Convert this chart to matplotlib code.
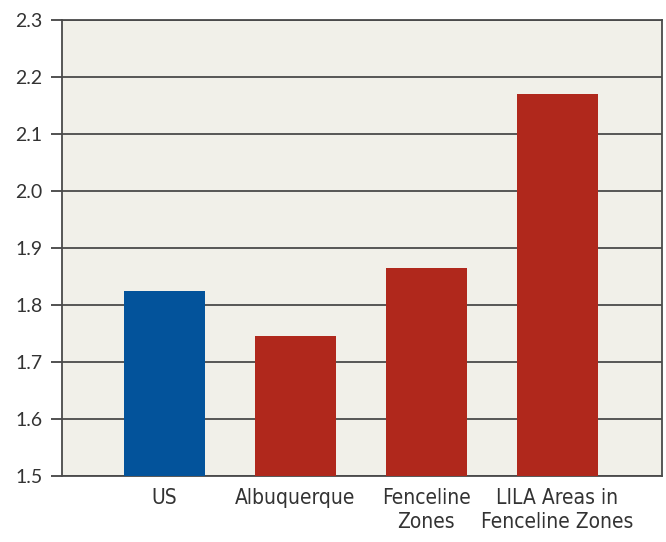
import numpy as np
import matplotlib.pyplot as plt

categories = ['US', 'Albuquerque', 'Fenceline\nZones', 'LILA Areas in\nFenceline Zones']
values = [1.825, 1.745, 1.865, 2.17]
colors = ['#03539b', '#b0281c', '#b0281c', '#b0281c']
yticks = [1.5, 1.6, 1.7, 1.8, 1.9, 2.0, 2.1, 2.2, 2.3]

fig = plt.figure(figsize=(6.66, 5.42), dpi=100)
ax = fig.add_axes([0.0931, 0.1218, 0.901, 0.8413])
ax.set_facecolor('#f1f0e9')

x = np.arange(len(categories))
ax.bar(x, values, width=0.62, color=colors, zorder=3)

ax.set_xlim(-0.78, 3.80)
ax.set_ylim(1.5, 2.3)
ax.set_yticks(yticks)
ax.set_yticklabels(['%.1f' % v for v in yticks])
ax.yaxis.grid(True, color='#4a4a4a', linewidth=1.3, zorder=1)
ax.set_axisbelow(True)

ax.set_xticks(x)
ax.set_xticklabels(categories, family=['DejaVu Sans'], stretch='condensed',
                   fontsize=15, color='#333333', linespacing=1.2)
ax.tick_params(axis='x', length=0, pad=9)
ax.tick_params(axis='y', length=8, width=1.2, color='#333333', pad=6,
               labelsize=14, labelcolor='#333333')
for lbl in ax.get_yticklabels():
    lbl.set_family(['Lato', 'DejaVu Sans'])

for s in ax.spines.values():
    s.set_color('#4a4a4a')
    s.set_linewidth(1.3)

fig.savefig('out.png', dpi=100)
